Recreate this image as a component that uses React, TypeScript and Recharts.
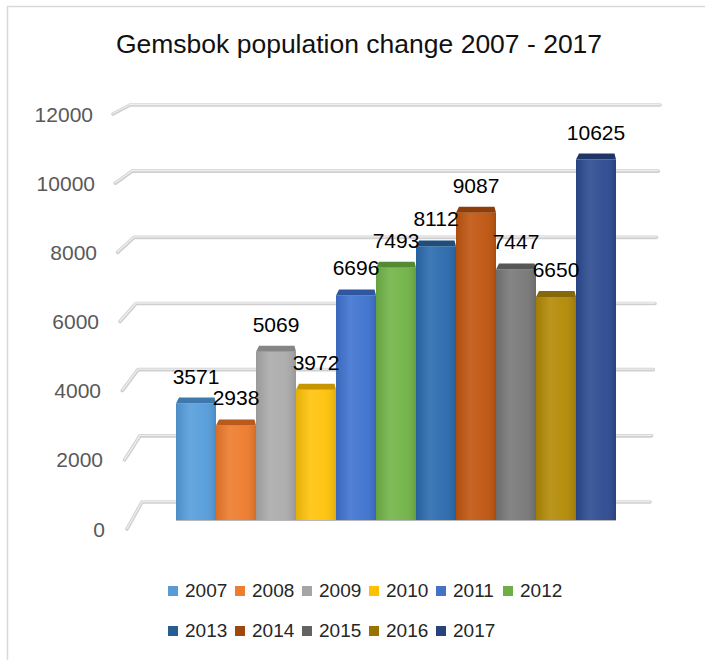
import React from 'react';
import { BarChart, Bar, XAxis, YAxis, CartesianGrid, LabelList, Legend } from 'recharts';

// chart values
const chartTitle = 'Gemsbok population change 2007 - 2017';
const years = ['2007', '2008', '2009', '2010', '2011', '2012', '2013', '2014', '2015', '2016', '2017'];
const population = [3571, 2938, 5069, 3972, 6696, 7493, 8112, 9087, 7447, 6650, 10625];
const yTicks = [0, 2000, 4000, 6000, 8000, 10000, 12000];

// colours (bar faces look a bit lighter than the legend swatches because of the 3D lighting)
const legendColors = ['#5B9BD5', '#ED7D31', '#A5A5A5', '#FFC000', '#4472C4', '#70AD47', '#255E91', '#9E480E', '#636363', '#997300', '#264478'];
const barColors = ['#559DDB', '#EE7B2C', '#ABABAB', '#FFC30A', '#3F73D0', '#72B448', '#2A6AAE', '#C0550F', '#787878', '#B38A06', '#2D4B91'];
const topColors = ['#3F78AD', '#B85A1C', '#858585', '#C79500', '#2F569E', '#558A35', '#1D4E7E', '#8F3D08', '#575757', '#86670A', '#1F3568'];

const FONT = '"Liberation Sans", Arial, sans-serif';

// layout of the plot (front faces of the bars)
const W = 705;
const H = 660;
const PLOT_TOP = 106;
const PLOT_BOTTOM = 521;
const PLOT_H = PLOT_BOTTOM - PLOT_TOP;
// back wall where the gridlines sit
const BACK_TOP = 105;
const BACK_BOTTOM = 502;

const chartData = [
  years.reduce((row: any, y, i) => {
    row[y] = population[i];
    return row;
  }, { name: 'population' }),
];

// 3D-looking gridline: short slanted piece on the side wall, then along the back wall
const GridLine3D = (props: any) => {
  const gy = props.y1;
  const t = (gy - PLOT_TOP) / PLOT_H;
  const backY = BACK_BOTTOM - (PLOT_BOTTOM - gy) * (BACK_BOTTOM - BACK_TOP) / PLOT_H;
  const lowerX = 113 + 14 * t;
  const lowerY = gy + 8;
  const upperX = 130 + 12 * t;
  const rightX = 660 - 10 * t;
  const d = `M${lowerX},${lowerY} L${upperX},${backY} L${rightX},${backY}`;
  return (
    <g key={`grid-${props.index}`}>
      <path d={d} fill="none" stroke="#cfcfcf" strokeWidth={3.6} strokeLinecap="round" strokeLinejoin="round" />
      <path d={d} fill="none" stroke="#eeeeee" strokeWidth={1.3} strokeLinecap="round" strokeLinejoin="round" transform="translate(0,-0.5)" />
    </g>
  );
};

const YTick = ({ y, payload }: any) => {
  const t = (y - PLOT_TOP) / PLOT_H;
  return (
    <text x={93 + 12 * t} y={y + 8} dy="0.36em" textAnchor="end" fontSize={21} fontFamily={FONT} fill="#595959">
      {payload.value}
    </text>
  );
};

const makeBox = (i: number) => (props: any) => {
  const { x, y, width, height } = props;
  if (height == null || height <= 0) return <g />;
  const depth = 6;
  const gid = `bar-shade-${i}`;
  return (
    <g>
      <defs>
        <linearGradient id={gid} x1="0" y1="0" x2="1" y2="0">
          <stop offset="0%" stopColor="#000" stopOpacity={0.1} />
          <stop offset="35%" stopColor="#fff" stopOpacity={0.1} />
          <stop offset="70%" stopColor="#fff" stopOpacity={0.04} />
          <stop offset="100%" stopColor="#000" stopOpacity={0.12} />
        </linearGradient>
      </defs>
      <rect x={x} y={y + depth} width={width} height={height - depth} fill={barColors[i]} />
      <rect x={x} y={y + depth} width={width} height={height - depth} fill={`url(#${gid})`} />
      <polygon
        points={`${x},${y + depth} ${x + 3},${y} ${x + width - 1.5},${y} ${x + width},${y + depth}`}
        fill={topColors[i]}
      />
      <line x1={x} x2={x + width} y1={y + height - 0.5} y2={y + height - 0.5} stroke="#b8b8b8" strokeWidth={1} />
    </g>
  );
};

const LegendBlock = () => (
  <div style={{ display: 'flex', flexWrap: 'wrap', width: 402, fontFamily: FONT, fontSize: 19, color: '#262626' }}>
    {years.map((y, i) => (
      <div key={y} style={{ width: 67, height: 40, display: 'flex', alignItems: 'center' }}>
        <span style={{ display: 'inline-block', width: 10, height: 10, background: legendColors[i], marginRight: 7 }} />
        <span>{y}</span>
      </div>
    ))}
  </div>
);

export default function App() {
  return (
    <div style={{ position: 'absolute', left: 0, top: 0, width: W, height: H, background: '#fff', overflow: 'hidden' }}>
      <svg width={W} height={H} style={{ position: 'absolute', left: 0, top: 0 }}>
        <rect x={7.5} y={6.5} width={900} height={900} fill="none" stroke="#d9d9d9" strokeWidth={1.5} />
        <text x={359} y={53} textAnchor="middle" fontSize={26.5} fontFamily={FONT} fill="#111">
          {chartTitle}
        </text>
      </svg>
      <div style={{ position: 'absolute', left: 0, top: 0 }}>
        <BarChart
          width={W}
          height={H}
          data={chartData}
          margin={{ top: PLOT_TOP, right: 55, bottom: H - PLOT_BOTTOM, left: 0 }}
          barCategoryGap={34}
          barGap={0}
        >
          <CartesianGrid vertical={false} horizontal={GridLine3D as any} />
          <XAxis dataKey="name" hide />
          <YAxis
            width={142}
            domain={[0, 12000]}
            ticks={yTicks}
            axisLine={false}
            tickLine={false}
            tick={<YTick />}
            interval={0}
          />
          <Legend
            layout="vertical"
            align="center"
            verticalAlign="middle"
            wrapperStyle={{ left: 168, top: 571, width: 402 }}
            content={<LegendBlock />}
          />
          {years.map((y, i) => (
            <Bar key={y} dataKey={y} name={y} fill={legendColors[i]} shape={makeBox(i)} isAnimationActive={false}>
              <LabelList dataKey={y} position="top" offset={14} fontSize={21} fontFamily={FONT} fill="#000" />
            </Bar>
          ))}
        </BarChart>
      </div>
    </div>
  );
}
